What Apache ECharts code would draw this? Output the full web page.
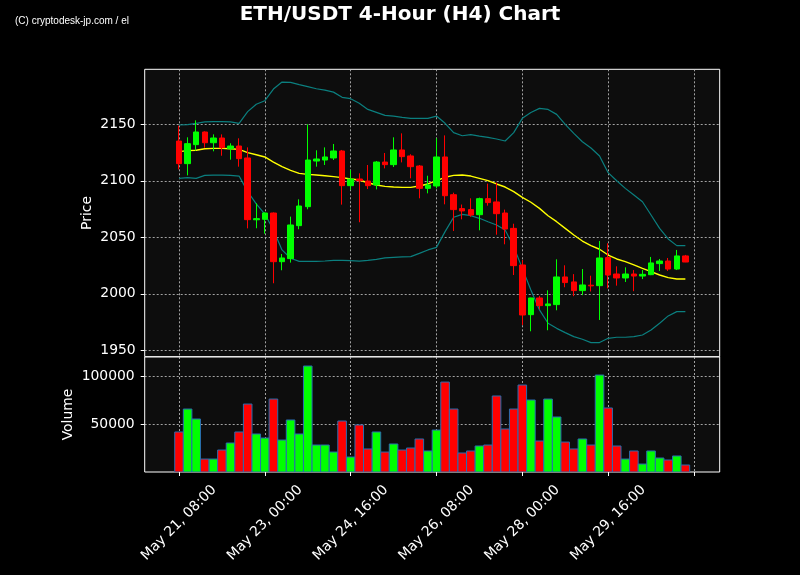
<!DOCTYPE html>
<html>
<head>
<meta charset="utf-8">
<script src="https://cdn.jsdelivr.net/npm/echarts@6/dist/echarts.min.js"></script>
<style>
html,body{margin:0;padding:0;background:#000;}
#chart{width:800px;height:575px;}
</style>
</head>
<body>
<div id="chart"></div>
<script>
// ---- data ----
const tickLabels = ['May 21, 08:00','May 23, 00:00','May 24, 16:00','May 26, 08:00','May 28, 00:00','May 29, 16:00'];
const tickEvery = 10;

const opens = [2135.2,2115.2,2132.0,2143.2,2133.7,2137.9,2128.4,2130.8,2120.2,2065.5,
2065.9,2071.5,2028.4,2031.1,2060.3,2077.1,2117.5,2118.4,2120.2,2126.4,
2095.7,2101.6,2099.8,2096.3,2116.6,2114.3,2127.3,2122.0,2113.1,2093.3,
2095.4,2121.1,2087.7,2075.4,2074.5,2070.0,2084.2,2081.3,2071.5,2057.9,
2025.5,1981.5,1996.3,1989.5,1990.4,2014.9,2010.5,2002.8,2007.6,2007.2,
2032.0,2017.5,2014.0,2017.5,2015.7,2016.9,2026.7,2029.0,2021.9,2033.5];

const closes = [2115.2,2132.9,2143.2,2133.7,2137.9,2129.3,2130.8,2119.6,2065.6,2066.5,
2071.5,2028.4,2031.7,2060.9,2077.7,2118.4,2119.3,2121.1,2126.4,2095.7,
2101.6,2100.1,2095.7,2116.6,2114.3,2127.3,2121.4,2112.5,2093.3,2096.3,
2121.1,2086.8,2074.5,2073.3,2069.7,2084.2,2080.7,2070.9,2057.3,2024.9,
1981.2,1996.3,1989.5,1991.0,2014.9,2009.9,2002.8,2007.8,2007.0,2031.7,
2016.6,2014.0,2017.5,2015.7,2017.2,2027.3,2029.0,2021.9,2033.5,2028.1];

const highs = [2148.8,2138.5,2153.5,2143.8,2141.1,2141.1,2133.2,2137.6,2129.6,2080.1,
2072.0,2072.0,2035.2,2068.3,2083.6,2150.0,2127.0,2129.6,2132.6,2127.3,
2109.6,2106.6,2114.0,2117.5,2124.6,2138.5,2142.0,2123.5,2114.0,2104.5,
2137.6,2140.2,2089.5,2079.0,2084.5,2085.1,2097.5,2098.4,2074.5,2062.0,
2029.9,1996.5,1998.1,2003.1,2030.5,2025.2,2017.4,2021.9,2016.0,2046.7,
2044.7,2024.3,2023.4,2021.0,2021.0,2032.6,2030.8,2031.7,2038.8,2034.4];

const lows = [2110.1,2104.8,2126.7,2129.3,2126.1,2122.2,2118.7,2112.5,2057.9,2058.0,
2053.2,2009.3,2020.8,2027.6,2057.1,2074.8,2112.5,2114.0,2118.4,2078.9,
2091.9,2063.3,2092.7,2092.4,2111.0,2112.2,2116.3,2102.2,2084.5,2088.9,
2093.3,2079.2,2055.6,2065.9,2068.2,2056.2,2078.0,2052.3,2043.8,2016.6,
1972.4,1966.8,1986.3,1967.7,1985.4,2005.8,1997.9,1998.8,2002.0,1976.8,
2004.8,2007.2,2010.4,2002.3,2013.0,2016.5,2020.2,2020.2,2021.0,2028.0];

const volumes = [41700,65600,55200,13500,13500,22900,30200,41700,70800,39600,
35400,76000,33300,54200,39600,110400,28100,28100,20800,53100,
15600,49000,24000,41700,20800,29200,22900,25000,34400,21900,
43700,93700,65600,19800,21900,27100,28100,79200,44800,65600,
90600,75000,32300,76000,57300,31200,24000,34400,28100,101000,
66700,27100,13500,21900,8300,21900,14600,12500,16700,7300];

const bbUpper = [2149.4,2149.7,2150.9,2152.1,2152.3,2152.3,2152.1,2150.9,2161.2,2167.7,
2170.9,2181.2,2187.4,2187.1,2185.1,2183.3,2181.5,2180.3,2178.5,2173.9,
2172.7,2168.6,2163.2,2160.6,2157.9,2157.3,2156.2,2155.3,2155.3,2155.3,
2157.3,2150.9,2142.6,2139.9,2140.8,2139.6,2138.5,2137.0,2135.2,2142.6,
2155.3,2160.5,2164.1,2163.2,2158.8,2150.0,2142.0,2134.6,2129.0,2121.9,
2107.2,2100.1,2093.3,2087.4,2081.5,2069.7,2057.9,2048.5,2042.6,2042.6];

const bbMiddle = [2125.8,2126.7,2127.0,2128.4,2128.7,2128.7,2128.4,2127.8,2124.9,2123.1,
2121.1,2116.6,2112.5,2109.3,2106.6,2105.7,2105.1,2104.5,2103.7,2102.8,
2101.6,2100.7,2098.3,2096.3,2095.1,2094.5,2094.2,2094.2,2095.4,2097.2,
2100.1,2103.1,2104.8,2105.1,2104.2,2102.2,2100.1,2097.2,2094.5,2090.4,
2085.4,2081.0,2075.6,2069.1,2063.8,2057.9,2052.0,2046.7,2042.6,2039.4,
2034.3,2030.8,2028.4,2025.5,2022.5,2019.6,2016.6,2014.3,2013.1,2013.1];

const bbLower = [2102.2,2102.8,2102.2,2104.8,2105.1,2105.1,2104.8,2104.2,2090.4,2079.5,
2070.6,2056.5,2038.8,2031.4,2028.7,2028.7,2028.7,2029.0,2029.6,2029.6,
2029.3,2028.9,2029.6,2030.5,2031.7,2032.3,2032.6,2032.9,2035.8,2038.8,
2041.1,2055.0,2067.7,2070.3,2069.1,2066.8,2063.8,2060.9,2056.5,2041.7,
2022.5,2003.4,1985.7,1973.9,1969.4,1965.6,1962.1,1959.7,1956.8,1956.8,
1960.6,1961.5,1961.5,1962.1,1963.5,1968.0,1973.9,1980.4,1984.2,1984.2];

const priceTicks = [1950,2000,2050,2100,2150];
const volumeTicks = [50000,100000];

// ---- build ----
const padL = 4, padR = 4;
const n = opens.length;
const cats = [];
for (let i = -padL; i < n + padR; i++) cats.push(String(i));
function pad(arr){ const out=[]; for(let i=0;i<padL;i++) out.push('-'); arr.forEach(v=>out.push(v)); for(let i=0;i<padR;i++) out.push('-'); return out; }

const candleData = pad(opens.map((o,i)=>[o, closes[i], lows[i], highs[i]]));
const volData = volumes.map((v,i)=>[i + padL, v, closes[i] >= opens[i] ? 1 : 0]);

const isTick = idx => idx >= padL && (idx - padL) % tickEvery === 0;
const gridLine = { show: true, lineStyle: { color: 'rgba(200,200,200,0.8)', type: [2,2], width: 1 } };
const axisTxt = { color: '#fff', fontFamily: 'DejaVu Sans', fontSize: 13.9 };
const plain = v => String(v);

function renderVol(params, api) {
  const x = api.value(0), v = api.value(1), up = api.value(2);
  const top = api.coord([x, v]);
  const base = api.coord([x, 0]);
  const w = api.size([1, 0])[0];
  return {
    type: 'rect',
    shape: { x: top[0] - w / 2, y: top[1], width: w, height: base[1] - top[1] },
    style: { fill: up ? '#00ff00' : '#ff0000', stroke: '#2a6db0', lineWidth: 1 }
  };
}

const chart = echarts.init(document.getElementById('chart'), null, { renderer: 'canvas' });
chart.setOption({
  animation: false,
  backgroundColor: '#000',
  title: {
    text: 'ETH/USDT 4-Hour (H4) Chart',
    left: 'center', top: 0,
    textStyle: { color: '#fff', fontSize: 20, fontWeight: 'bold', fontFamily: 'DejaVu Sans' }
  },
  graphic: [{
    type: 'text', left: 15, top: 16,
    style: { text: '(C) cryptodesk-jp.com / el', fill: '#fff', fontSize: 10, fontFamily: 'Liberation Sans' }
  }],
  grid: [
    { left: 144.7, right: 80.3, top: 69.3, height: 287.4, show: true, backgroundColor: '#0d0d0d', borderColor: '#fff', borderWidth: 1 },
    { left: 144.7, right: 80.3, top: 357, height: 115, show: true, backgroundColor: '#0d0d0d', borderColor: '#fff', borderWidth: 1 }
  ],
  xAxis: [
    { type: 'category', gridIndex: 0, data: cats, boundaryGap: false,
      axisLine: { show: false }, axisTick: { show: false }, axisLabel: { show: false },
      splitLine: Object.assign({ interval: (idx) => isTick(idx) }, gridLine) },
    { type: 'category', gridIndex: 1, data: cats, boundaryGap: false,
      axisLine: { show: false },
      axisTick: { show: true, interval: (idx) => isTick(idx), length: 4, lineStyle: { color: '#fff' } },
      axisLabel: Object.assign({
        interval: (idx) => isTick(idx),
        rotate: 45, align: 'center', verticalAlign: 'middle', margin: 51,
        formatter: (v, idx) => { const i = Number(v); const k = i / tickEvery; return (i >= 0 && i % tickEvery === 0 && k < tickLabels.length) ? tickLabels[k] : ''; }
      }, axisTxt),
      splitLine: Object.assign({ interval: (idx) => isTick(idx) }, gridLine) }
  ],
  yAxis: [
    { type: 'value', gridIndex: 0, min: 1944.3, max: 2198.7, scale: true,
      name: 'Price', nameLocation: 'middle', nameGap: 50, nameMoveOverlap: false, nameTextStyle: axisTxt,
      axisLine: { show: false },
      axisTick: { show: true, length: 4, customValues: priceTicks, lineStyle: { color: '#fff' } },
      axisLabel: Object.assign({ customValues: priceTicks, margin: 9, formatter: plain }, axisTxt),
      splitLine: gridLine },
    { type: 'value', gridIndex: 1, min: 0, max: 119800,
      name: 'Volume', nameLocation: 'middle', nameGap: 69, nameMoveOverlap: false, nameTextStyle: axisTxt,
      axisLine: { show: false },
      axisTick: { show: true, length: 4, customValues: volumeTicks, lineStyle: { color: '#fff' } },
      axisLabel: Object.assign({ customValues: volumeTicks, margin: 10, formatter: plain }, axisTxt),
      splitLine: gridLine }
  ],
  series: [
    { type: 'line', xAxisIndex: 0, yAxisIndex: 0, data: pad(bbUpper), symbol: 'none',
      lineStyle: { color: '#0b7f7f', width: 1.2 }, z: 2 },
    { type: 'line', xAxisIndex: 0, yAxisIndex: 0, data: pad(bbLower), symbol: 'none',
      lineStyle: { color: '#0b7f7f', width: 1.2 }, z: 2 },
    { type: 'line', xAxisIndex: 0, yAxisIndex: 0, data: pad(bbMiddle), symbol: 'none',
      lineStyle: { color: '#ffff00', width: 1.4 }, z: 3 },
    { type: 'candlestick', xAxisIndex: 0, yAxisIndex: 0, data: candleData, barWidth: 6,
      itemStyle: { color: '#00ff00', color0: '#ff0000', borderColor: '#00ff00', borderColor0: '#ff0000', borderWidth: 1 }, z: 4 },
    { type: 'custom', xAxisIndex: 1, yAxisIndex: 1, data: volData, renderItem: renderVol,
      encode: { x: 0, y: 1 }, clip: true, z: 2 }
  ]
});
</script>
</body>
</html>
